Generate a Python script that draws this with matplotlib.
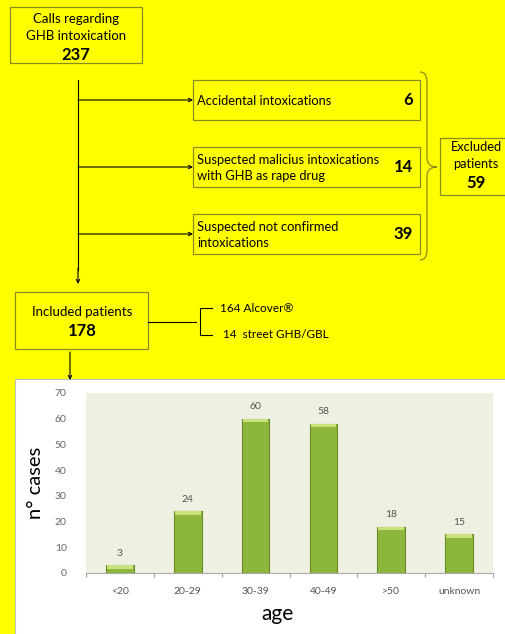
import matplotlib.pyplot as plt
from matplotlib.patches import Rectangle, PathPatch
from matplotlib.path import Path

plt.rcParams['font.family'] = ['Lato', 'DejaVu Sans']

# flowchart numbers
n_calls = 237
excluded_labels = ['Accidental intoxications',
                   'Suspected malicius intoxications\nwith GHB as rape drug',
                   'Suspected not confirmed\nintoxications']
excluded_counts = [6, 14, 39]
n_excluded = 59
n_included = 178
included_split = ['164 Alcover®', '14  street GHB/GBL']

# age distribution
age_groups = ['<20', '20-29', '30-39', '40-49', '>50', 'unknown']
cases = [3, 24, 60, 58, 18, 15]

W, H = 505, 634
fig = plt.figure(figsize=(W / 100, H / 100), dpi=100, facecolor='#FFFF00')

# --- flowchart, drawn in pixel coordinates ---
fc = fig.add_axes([0, 0, 1, 1])
fc.set_xlim(0, W)
fc.set_ylim(H, 0)
fc.axis('off')

box_ec = '#8C8C1E'


def box(x0, y0, x1, y1):
    fc.add_patch(Rectangle((x0, y0), x1 - x0, y1 - y0, fill=False,
                           ec=box_ec, lw=0.9))


def arrow(x0, y0, x1, y1):
    fc.annotate('', xy=(x1, y1), xytext=(x0, y0),
                arrowprops=dict(arrowstyle='->', color='black', lw=0.8,
                                mutation_scale=6, shrinkA=0, shrinkB=0))


# top box
box(10, 7, 142, 63)
fc.text(76, 19, 'Calls regarding', ha='center', va='center', fontsize=9.5)
fc.text(76, 36, 'GHB intoxication', ha='center', va='center', fontsize=9.5)
fc.text(76, 55, str(n_calls), ha='center', va='center', fontsize=12,
        fontweight='bold')

# main trunk
fc.plot([78, 78], [80, 270], color='black', lw=0.8)
arrow(78, 268, 78, 284)

# exclusion boxes
rows = [100, 167, 234]
for yc, lab, cnt in zip(rows, excluded_labels, excluded_counts):
    arrow(78, yc, 193, yc)
    box(193, yc - 20, 420, yc + 20)
    fc.text(197, yc + 1, lab, ha='left', va='center', fontsize=9.3,
            linespacing=1.4)
    fc.text(413, yc, str(cnt), ha='right', va='center', fontsize=12,
            fontweight='bold')

# brace
verts = [(420, 72), (427, 72), (427, 82),
         (427, 158), (427, 167), (437, 167),
         (427, 167), (427, 176),
         (427, 250), (427, 260), (420, 260)]
codes = [Path.MOVETO, Path.CURVE3, Path.CURVE3,
         Path.LINETO, Path.CURVE3, Path.CURVE3,
         Path.CURVE3, Path.CURVE3,
         Path.LINETO, Path.CURVE3, Path.CURVE3]
fc.add_patch(PathPatch(Path(verts, codes), fill=False, ec=box_ec, lw=0.9))

# excluded box
box(440, 138, 507, 195)
fc.text(476, 147, 'Excluded', ha='center', va='center', fontsize=9.3)
fc.text(476, 164, 'patients', ha='center', va='center', fontsize=9.3)
fc.text(476, 183, str(n_excluded), ha='center', va='center', fontsize=12,
        fontweight='bold')

# included box
box(15, 292, 148, 349)
fc.text(82, 312, 'Included patients', ha='center', va='center', fontsize=9.5)
fc.text(82, 331, str(n_included), ha='center', va='center', fontsize=12,
        fontweight='bold')
fc.plot([148, 196], [322, 322], color='black', lw=0.8)
fc.plot([212, 200, 200, 212], [308, 308, 335, 335], color='black', lw=0.8)
fc.text(220, 309, included_split[0], ha='left', va='center', fontsize=8.5)
fc.text(223, 335, included_split[1], ha='left', va='center', fontsize=8.5)
arrow(70, 352, 70, 380)

# white panel behind the chart
fc.add_patch(Rectangle((15, 379), 495, 260, fc='white', ec='#BFBFBF',
                       lw=0.8, zorder=0))

# --- bar chart ---
ax = fig.add_axes([86 / W, (H - 573) / H, 407 / W, 180 / H])
ax.set_facecolor('#EEF0E2')
x = range(len(age_groups))
ax.bar(x, cases, width=0.41, color='#8DB63C', edgecolor='#6A8C26',
       linewidth=0.8, zorder=2)
# light top strip on each bar
ax.bar(x, [1.3] * len(cases), bottom=[c - 1.3 for c in cases], width=0.38,
       color='#C9E27E', linewidth=0, zorder=3)
for xi, c in zip(x, cases):
    ax.text(xi, c + 3, str(c), ha='center', va='bottom', fontsize=7.5,
            color='#555555')

ax.set_xlim(-0.5, len(age_groups) - 0.5)
ax.set_ylim(0, 70)
ax.set_yticks(range(0, 71, 10))
ax.tick_params(axis='y', length=0, labelsize=7.5, labelcolor='#666666', pad=14)
ax.set_xticks([i - 0.5 for i in range(len(age_groups) + 1)])
ax.set_xticklabels([])
ax.set_xticks(list(x), minor=True)
ax.set_xticklabels(age_groups, minor=True, fontsize=7.5, color='#555555')
ax.tick_params(axis='x', which='major', length=3, color='#999999',
               direction='out')
ax.tick_params(axis='x', which='minor', length=0, pad=10)
for s in ['left', 'right', 'top']:
    ax.spines[s].set_visible(False)
ax.spines['bottom'].set_color('#AAAAAA')
ax.set_ylabel('n° cases', fontsize=14.5, labelpad=8)
ax.set_xlabel('age', fontsize=15, labelpad=4)
ax.xaxis.set_label_coords(0.47, -0.17)

fig.savefig('out.png', dpi=100, facecolor=fig.get_facecolor())
